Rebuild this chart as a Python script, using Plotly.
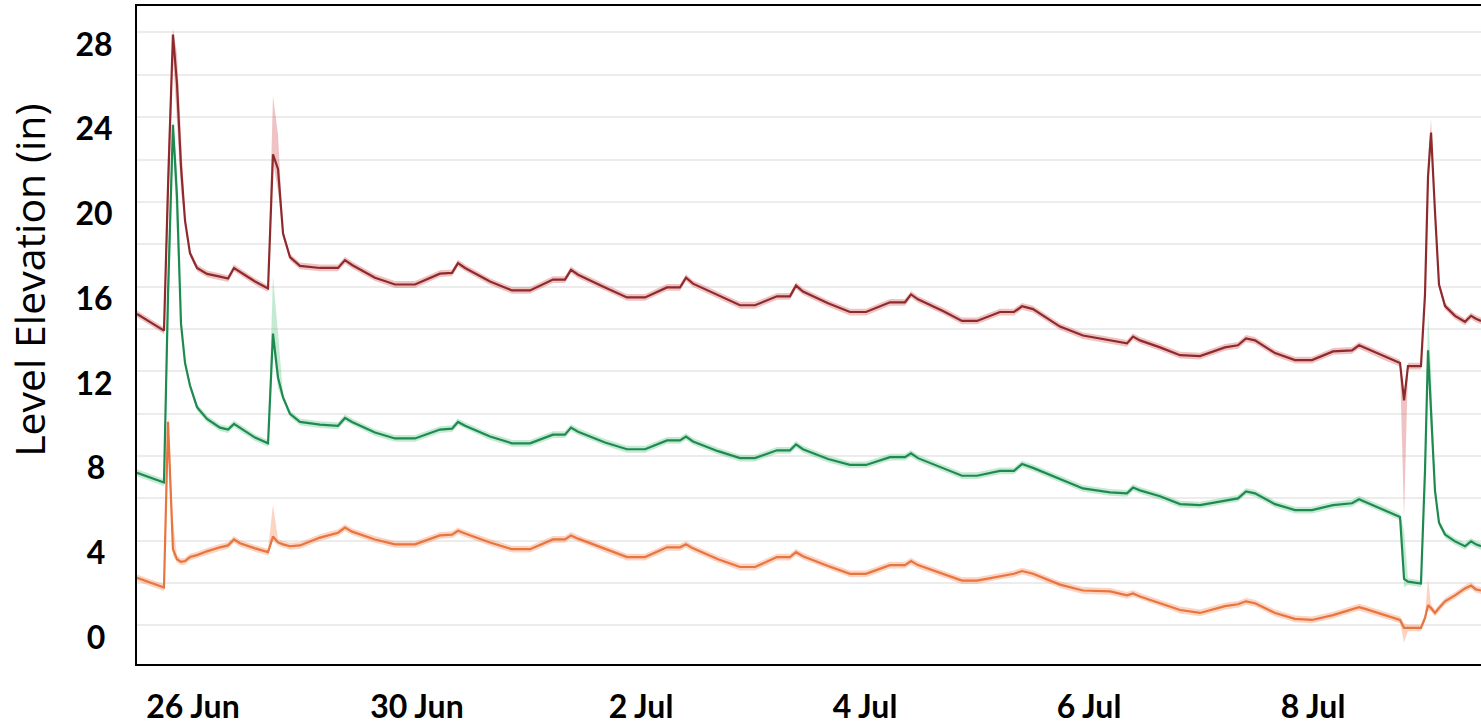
import plotly.graph_objects as go

# Time since the start of the record, in days
t_day = [
    0.000, 0.116, 0.241, 0.277, 0.321, 0.357, 0.393, 0.429, 0.473, 0.536,
    0.625, 0.741, 0.813, 0.866, 0.920, 1.054, 1.170, 1.214, 1.259, 1.304,
    1.366, 1.455, 1.634, 1.795, 1.857, 1.920, 2.125, 2.304, 2.482, 2.705,
    2.813, 2.866, 2.929, 3.152, 3.348, 3.509, 3.714, 3.821, 3.875, 3.938,
    4.179, 4.375, 4.536, 4.732, 4.848, 4.902, 4.964, 5.188, 5.384, 5.518,
    5.714, 5.830, 5.884, 5.946, 6.170, 6.366, 6.509, 6.723, 6.857, 6.911,
    6.973, 7.196, 7.366, 7.500, 7.705, 7.830, 7.902, 8.000, 8.241, 8.446,
    8.688, 8.839, 8.893, 8.955, 9.134, 9.313, 9.491, 9.714, 9.830, 9.902,
    9.982, 10.161, 10.339, 10.491, 10.679, 10.848, 10.911, 10.973, 11.143, 11.277,
    11.313, 11.348, 11.464, 11.500, 11.527, 11.554, 11.589, 11.625, 11.679, 11.768,
    11.857, 11.911, 11.955, 12.000,
]

# Level elevation readings (in)
red_in = [
    14.71, 14.34, 13.92, 20.73, 27.90, 25.59, 21.65, 19.10, 17.58, 16.88,
    16.60, 16.47, 16.38, 16.88, 16.70, 16.24, 15.91, 22.25, 21.55, 18.50,
    17.39, 16.98, 16.88, 16.88, 17.25, 17.02, 16.42, 16.10, 16.10, 16.61,
    16.65, 17.11, 16.88, 16.24, 15.82, 15.82, 16.33, 16.33, 16.79, 16.56,
    15.96, 15.49, 15.49, 15.96, 15.96, 16.42, 16.14, 15.59, 15.12, 15.12,
    15.54, 15.54, 16.05, 15.77, 15.21, 14.80, 14.80, 15.26, 15.26, 15.63,
    15.40, 14.85, 14.38, 14.38, 14.80, 14.80, 15.07, 14.94, 14.11, 13.69,
    13.46, 13.32, 13.64, 13.46, 13.13, 12.76, 12.72, 13.13, 13.23, 13.55,
    13.46, 12.86, 12.53, 12.53, 12.94, 12.99, 13.23, 13.09, 12.67, 12.39,
    10.63, 12.25, 12.25, 15.63, 21.19, 23.27, 19.56, 16.10, 15.08, 14.62,
    14.34, 14.62, 14.48, 14.38,
]
green_in = [
    7.21, 6.98, 6.75, 15.63, 23.64, 20.26, 14.24, 12.39, 11.33, 10.31,
    9.75, 9.34, 9.25, 9.52, 9.34, 8.87, 8.60, 13.78, 11.70, 10.77,
    9.99, 9.61, 9.48, 9.43, 9.80, 9.61, 9.11, 8.83, 8.83, 9.25,
    9.29, 9.61, 9.43, 8.92, 8.60, 8.60, 9.01, 9.01, 9.34, 9.15,
    8.64, 8.32, 8.32, 8.74, 8.74, 8.92, 8.69, 8.23, 7.90, 7.90,
    8.27, 8.27, 8.55, 8.32, 7.86, 7.58, 7.58, 7.95, 7.95, 8.13,
    7.90, 7.44, 7.07, 7.07, 7.30, 7.30, 7.62, 7.44, 6.93, 6.47,
    6.28, 6.24, 6.51, 6.38, 6.10, 5.73, 5.68, 5.91, 6.00, 6.33,
    6.24, 5.73, 5.45, 5.45, 5.68, 5.77, 5.96, 5.82, 5.45, 5.12,
    2.20, 2.07, 1.98, 7.30, 12.99, 10.08, 6.38, 4.85, 4.29, 3.97,
    3.74, 3.97, 3.83, 3.74,
]
orange_in = [
    2.25, 2.02, 1.79, 9.62, 3.60, 3.13, 3.00, 3.04, 3.23, 3.32,
    3.50, 3.69, 3.78, 4.06, 3.88, 3.64, 3.46, 4.20, 3.92, 3.83,
    3.74, 3.78, 4.15, 4.38, 4.62, 4.43, 4.06, 3.83, 3.83, 4.25,
    4.29, 4.47, 4.34, 3.92, 3.60, 3.60, 4.06, 4.06, 4.25, 4.10,
    3.60, 3.23, 3.23, 3.69, 3.69, 3.83, 3.64, 3.13, 2.76, 2.76,
    3.23, 3.23, 3.46, 3.27, 2.81, 2.44, 2.44, 2.85, 2.85, 3.04,
    2.85, 2.44, 2.12, 2.12, 2.34, 2.44, 2.57, 2.44, 1.93, 1.65,
    1.61, 1.42, 1.51, 1.37, 1.05, 0.73, 0.59, 0.91, 1.00, 1.14,
    1.05, 0.59, 0.31, 0.26, 0.49, 0.77, 0.86, 0.77, 0.49, 0.26,
    -0.11, -0.11, -0.11, 0.36, 0.96, 0.82, 0.59, 0.82, 1.14, 1.42,
    1.75, 1.88, 1.70, 1.65,
]

# Min / max spread of the readings where it opens up (day -> (low, high))
red_env = {
    0.277: (19.0, 22.5), 0.321: (26.8, 28.2), 0.357: (23.8, 27.0), 0.393: (20.5, 23.0),
    1.214: (21.9, 25.0), 1.259: (20.5, 23.2),
    11.313: (5.1, 11.0), 11.527: (20.5, 22.0), 11.554: (22.8, 23.9),
}
green_env = {
    0.277: (13.5, 17.5), 0.321: (22.8, 23.9), 0.357: (18.5, 21.5),
    1.214: (13.2, 16.5), 1.259: (11.2, 13.8),
    11.313: (1.8, 4.5), 11.527: (12.4, 14.8), 11.554: (9.0, 12.0),
}
orange_env = {
    0.277: (8.5, 10.0), 0.321: (3.3, 5.0),
    1.214: (4.0, 5.7),
    11.313: (-0.8, 0.1), 11.527: (0.7, 2.2),
}

x_tick_pos = [0.5, 2.5, 4.5, 6.5, 8.5, 10.5]
x_tick_text = ["26 Jun", "30 Jun", "2 Jul", "4 Jul", "6 Jul", "8 Jul"]

y_tick_pos = [0, 4, 8, 12, 16, 20, 24, 28]
# single digits get a trailing punctuation space so the numbers sit centred in the column
y_tick_text = [f"{v}\u2008" if v < 10 else f"{v}" for v in y_tick_pos]

HALO = 0.16  # narrow spread drawn around each trace where no wider range is given


def band(values, env):
    lo, hi = [], []
    for t, v in zip(t_day, values):
        low, high = env.get(t, (v - HALO, v + HALO))
        lo.append(low)
        hi.append(high)
    return lo, hi


series = [
    ("Orange", orange_in, orange_env, "#e8743e", "rgba(244,142,96,0.38)"),
    ("Green", green_in, green_env, "#1f8a50", "rgba(70,190,120,0.32)"),
    ("Red", red_in, red_env, "#8f2a2c", "rgba(214,98,98,0.38)"),
]

fig = go.Figure()

for name, vals, env, line_c, fill_c in series:
    lo, hi = band(vals, env)
    fig.add_trace(go.Scatter(
        x=t_day + t_day[::-1], y=hi + lo[::-1],
        fill="toself", fillcolor=fill_c, line=dict(width=0),
        mode="lines", hoverinfo="skip", showlegend=False,
    ))

for name, vals, env, line_c, fill_c in series:
    fig.add_trace(go.Scatter(
        x=t_day, y=vals, mode="lines", name=name,
        line=dict(color=line_c, width=2.2), showlegend=False,
    ))

tick_font = dict(family="Lato", size=32, color="black", weight="bold")

fig.update_layout(
    width=1481, height=725,
    margin=dict(l=137, r=0, t=6, b=48),
    paper_bgcolor="white", plot_bgcolor="white",
    showlegend=False,
    xaxis=dict(
        range=[0, 12], tickvals=x_tick_pos, ticktext=x_tick_text,
        tickfont=tick_font, ticks="", showgrid=False, zeroline=False,
        showline=True, linecolor="black", linewidth=2, mirror=True,
        ticklabelstandoff=14,
    ),
    yaxis=dict(
        range=[-1.82, 29.25], tickvals=y_tick_pos, ticktext=y_tick_text,
        tickfont=tick_font, ticks="", zeroline=False,
        showgrid=True, gridcolor="#ececec", gridwidth=1.5,
        minor=dict(dtick=2, tick0=0, showgrid=True, gridcolor="#ececec", gridwidth=1.5),
        showline=True, linecolor="black", linewidth=2, mirror=False,
        ticklabelstandoff=16, ticklabelshift=12,
    ),
    annotations=[dict(
        text="Level Elevation (in)", textangle=-90,
        xref="paper", yref="paper", x=-0.0800, y=0.583,
        xanchor="center", yanchor="middle", showarrow=False,
        font=dict(family="Open Sans", size=41, color="black"),
    )],
)

fig.write_html("out.html")
